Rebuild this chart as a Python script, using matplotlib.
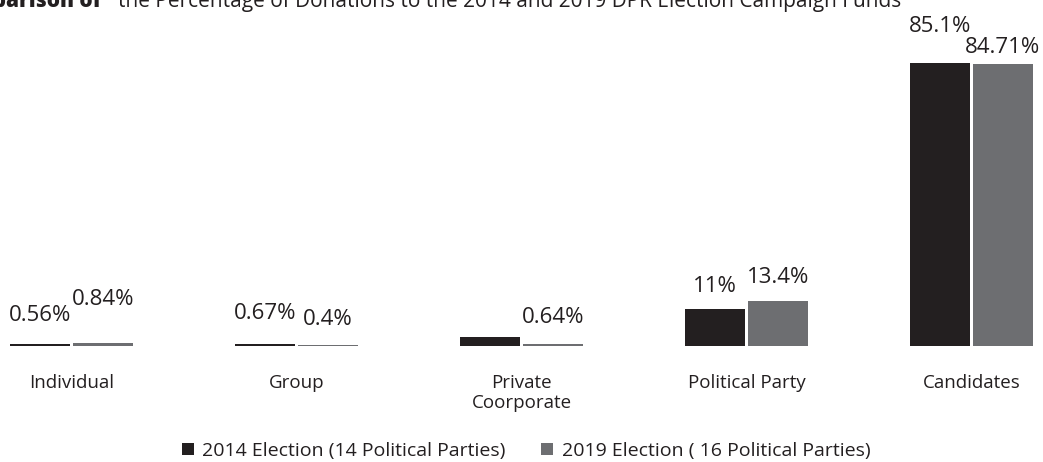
import matplotlib
matplotlib.use("Agg")
import matplotlib.pyplot as plt
from matplotlib.patches import Patch
import numpy as np

# Share of campaign-fund donations by source (percent)
categories = ["Individual", "Group", "Private\nCoorporate", "Political Party", "Candidates"]
share_2014 = [0.56, 0.67, 2.67, 11.0, 85.1]
share_2019 = [0.84, 0.4, 0.64, 13.4, 84.71]
show_label_2014 = [True, True, False, True, True]
show_label_2019 = [True, True, True, True, True]
series_names = ["2014 Election (14 Political Parties)", "2019 Election ( 16 Political Parties)"]

# Vertical gap (points) between each bar top and its value label
lift_2014 = [17, 18, 0, 12.5, 22]
lift_2019 = [27.5, 14, 15, 13, 8]

W, H, DPI = 1043, 462, 100
C2014 = "#231f20"
C2019 = "#6d6e71"
TXT = "#231f20"

plt.rcParams["font.family"] = ["Open Sans", "DejaVu Sans"]
plt.rcParams["font.size"] = 14

fig = plt.figure(figsize=(W / DPI, H / DPI), dpi=DPI)
ax = fig.add_axes([0, (H - 346) / H, 1, 346 / H])

x = np.arange(len(categories))
width = 0.2667
shift = 0.14
b14 = ax.bar(x - shift, share_2014, width, color=C2014)
b19 = ax.bar(x + shift, share_2019, width, color=C2019)

for bars, vals, flags, lifts in ((b14, share_2014, show_label_2014, lift_2014),
                                 (b19, share_2019, show_label_2019, lift_2019)):
    for rect, v, f, lift in zip(bars, vals, flags, lifts):
        if not f:
            continue
        ax.annotate(f"{v:g}%", (rect.get_x() + rect.get_width() / 2, v),
                    xytext=(0, lift), textcoords="offset points",
                    ha="center", va="baseline", fontsize=16, color=TXT)

ax.set_xlim(-71.5 / 225, (W - 71.5) / 225)
ax.set_ylim(0, 104)
ax.set_xticks(x)
ax.set_xticklabels(categories, fontsize=13.5, color=TXT, linespacing=1.15)
ax.tick_params(axis="x", length=0, pad=20)
ax.set_yticks([])
for s in ax.spines.values():
    s.set_visible(False)
ax.patch.set_alpha(0)

# Title, partially running past the top-left edge
fig.text(101 / W, 1 - 7 / H, "Comparison of", ha="right", va="baseline",
         fontsize=15, fontweight="heavy", color=TXT)
fig.text(118 / W, 1 - 7 / H,
         "the Percentage of Donations to the 2014 and 2019 DPR Election Campaign Funds",
         ha="left", va="baseline", fontsize=15, color=TXT)

handles = [Patch(facecolor=C2014), Patch(facecolor=C2019)]
fig.legend(handles, series_names, loc="center", bbox_to_anchor=(526 / W, 1 - 451 / H),
           ncol=2, frameon=False, fontsize=14, handlelength=0.62, handleheight=0.62,
           handletextpad=0.45, columnspacing=1.8, borderpad=0, labelcolor=TXT)

fig.savefig("out.png", dpi=DPI)
